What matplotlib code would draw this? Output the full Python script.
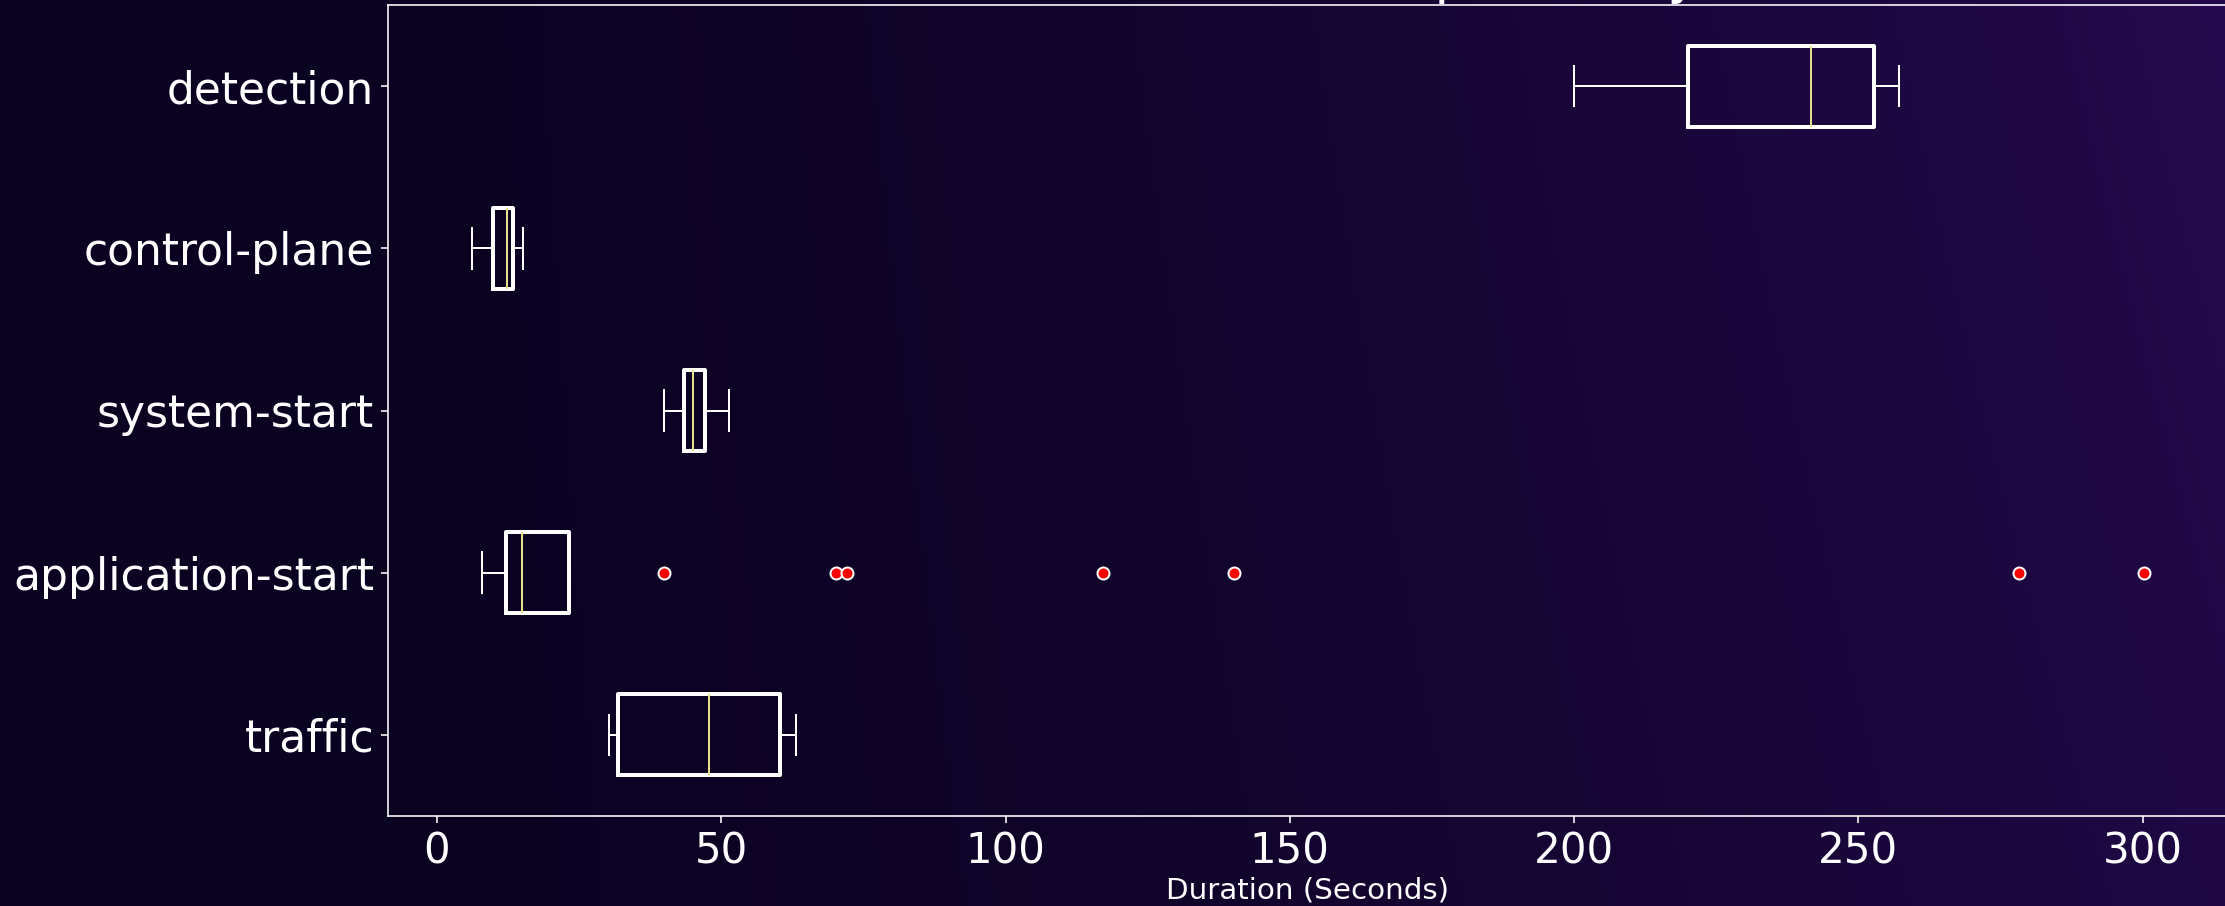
import numpy as np
import matplotlib
matplotlib.use("Agg")
import matplotlib.pyplot as plt
from matplotlib.colors import to_rgb

# ---- data ----
categories = ["traffic", "application-start", "system-start", "control-plane", "detection"]
whislo = [30.2, 8.0, 40.0, 6.1, 200.0]
q1 = [31.9, 12.1, 43.4, 9.9, 220.1]
med = [47.8, 15.0, 45.1, 12.3, 241.6]
q3 = [60.4, 23.2, 47.2, 13.3, 252.7]
whishi = [63.2, 23.2, 51.3, 15.1, 257.1]
fliers = [[], [40.0, 70.2, 72.1, 117.2, 140.1, 278.3, 300.3], [], [], []]
xticks = [0, 50, 100, 150, 200, 250, 300]
title = "Total Cluster Startup Latency"
xlabel = "Duration (Seconds)"

W, H, DPI = 2225, 906, 144
fig = plt.figure(figsize=(W / DPI, H / DPI), dpi=DPI)

# ---- background gradient over the whole figure ----
bg = fig.add_axes([0, 0, 1, 1], zorder=-10)
nx, ny = 400, 100
xx, yy = np.meshgrid(np.linspace(0, 1, nx), np.linspace(0, 1, ny))
t = np.clip(xx ** 1.8 * (0.82 + 0.18 * yy), 0, 1)
c0 = np.array(to_rgb("#0a0220"))
c1 = np.array(to_rgb("#240a4c"))
img = c0[None, None, :] * (1 - t[..., None]) + c1[None, None, :] * t[..., None]
bg.imshow(img, aspect="auto", extent=[0, 1, 0, 1], origin="lower", interpolation="bilinear")
bg.axis("off")

# ---- main axes ----
ax = fig.add_axes([388 / W, 90 / H, 1840 / W, 811 / H])
ax.set_facecolor("none")

stats = []
for i, c in enumerate(categories):
    stats.append(dict(label=c, whislo=whislo[i], q1=q1[i], med=med[i], q3=q3[i],
                      whishi=whishi[i], fliers=fliers[i]))

kw = dict(
    widths=0.5,
    boxprops=dict(color="white", linewidth=2),
    whiskerprops=dict(color="white", linewidth=1),
    capprops=dict(color="white", linewidth=1),
    medianprops=dict(color="#e6de8a", linewidth=1),
    flierprops=dict(marker="o", markerfacecolor="red", markeredgecolor="white",
                    markersize=6, markeredgewidth=1, linestyle="none"),
)
try:
    ax.bxp(stats, orientation="horizontal", **kw)
except TypeError:
    ax.bxp(stats, vert=False, **kw)

ax.set_xticks(xticks)
ax.tick_params(colors="white")
ax.tick_params(axis="x", labelsize=21)
ax.tick_params(axis="y", labelsize=22)
for s in ax.spines.values():
    s.set_color("white")
ax.set_xlabel(xlabel, color="white", fontsize=14.7, labelpad=2)
ax.set_title(title, color="white", fontsize=27)

fig.savefig("out.png", dpi=DPI)
